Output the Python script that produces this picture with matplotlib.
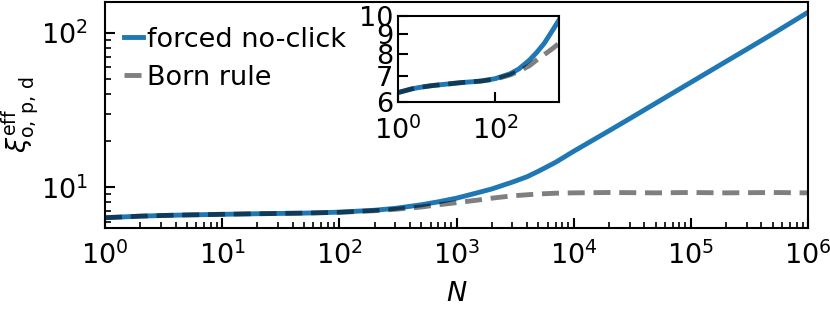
import matplotlib
matplotlib.use("Agg")
import matplotlib.pyplot as plt
from matplotlib.ticker import LogLocator, NullLocator, FixedLocator, FixedFormatter, NullFormatter

# Data
N_forced = [1, 2, 3, 5, 10, 20, 50, 100, 200, 300, 500, 700, 1000, 1500, 2000, 3000, 4000,
            5000, 7000, 1e4, 2e4, 3e4, 5e4, 1e5, 2e5, 3e5, 5e5, 1e6]
xi_forced = [6.35, 6.5, 6.56, 6.62, 6.68, 6.74, 6.8, 6.9, 7.1, 7.3, 7.7, 8.05, 8.5, 9.2, 9.75,
             10.8, 11.7, 12.7, 14.5, 17.1, 23.2, 27.8, 35.0, 47.8, 65.3, 78.3, 98.6, 136.0]

N_born = [1, 2, 3, 5, 10, 20, 50, 100, 200, 300, 500, 700, 1000, 1500, 2000, 3000, 5000, 7000,
          1e4, 2e4, 5e4, 1e5, 2e5, 5e5, 1e6]
xi_born = [6.35, 6.5, 6.56, 6.62, 6.68, 6.74, 6.8, 6.88, 7.05, 7.2, 7.45, 7.7, 7.95, 8.25, 8.5,
           8.8, 9.05, 9.15, 9.2, 9.25, 9.2, 9.25, 9.2, 9.25, 9.2]

label_forced = "forced no-click"
label_born = "Born rule"
inset_yticks = [6, 7, 8, 9, 10]
inset_ylabels = ["6", "7", "8", "9", "10"]

fs = 19.5
plt.rcParams['font.size'] = fs
plt.rcParams['axes.linewidth'] = 1.5

fig = plt.figure(figsize=(8.3, 3.11), dpi=100)
ax = fig.add_axes([0.1265, 0.2669, 0.847, 0.7267])

blue = '#1f77b4'
ax.plot(N_forced, xi_forced, color=blue, lw=3.5, label=label_forced)
ax.plot(N_born, xi_born, color='k', alpha=0.5, lw=3.5, ls='--', dashes=(3.5, 1.8), label=label_born)
ax.set_xscale('log')
ax.set_yscale('log')
ax.set_xlim(1, 1e6)
ax.set_xlabel(r'$N$', fontsize=fs, labelpad=8)
ax.set_ylabel(r'$\xi^{\mathrm{eff}}_{\mathrm{o,\,p,\,d}}$', fontsize=fs, labelpad=0)
ax.xaxis.set_major_locator(LogLocator(base=10, numticks=20))
ax.xaxis.set_minor_locator(LogLocator(base=10, subs=range(2, 10), numticks=20))
ax.xaxis.set_minor_formatter(NullFormatter())
ax.yaxis.set_minor_formatter(NullFormatter())
ax.tick_params(which='major', direction='in', length=7, width=1.5, labelsize=fs)
ax.tick_params(axis='x', which='major', pad=10)
ax.tick_params(axis='y', which='major', pad=12)
ax.tick_params(which='minor', direction='in', length=4, width=1.2)

leg = ax.legend(loc='upper left', frameon=False, fontsize=fs, handlelength=0.7,
                handletextpad=0.15, labelspacing=0.45, borderaxespad=0.3,
                bbox_to_anchor=(0.0, 0.975))

# inset
axi = fig.add_axes([0.479, 0.671, 0.1945, 0.2785])
axi.plot(N_forced, xi_forced, color=blue, lw=3.5)
axi.plot(N_born, xi_born, color='k', alpha=0.5, lw=3.5, ls='--', dashes=(3.5, 1.8))
axi.set_xscale('log')
axi.set_yscale('log')
axi.set_xlim(1, 2000)
axi.set_ylim(6, 10)
axi.xaxis.set_major_locator(FixedLocator([1, 100]))
axi.xaxis.set_minor_locator(NullLocator())
axi.yaxis.set_major_locator(FixedLocator(inset_yticks))
axi.yaxis.set_major_formatter(FixedFormatter(inset_ylabels))
axi.yaxis.set_minor_locator(NullLocator())
axi.tick_params(which='major', direction='in', length=7, width=1.5, labelsize=fs)
axi.tick_params(axis='x', pad=10)
axi.tick_params(axis='y', pad=3)
axi.set_xticklabels([r'$\mathdefault{10^{0}}$', r'$\mathdefault{10^{2}}$'])

fig.savefig('out.png', dpi=100)
